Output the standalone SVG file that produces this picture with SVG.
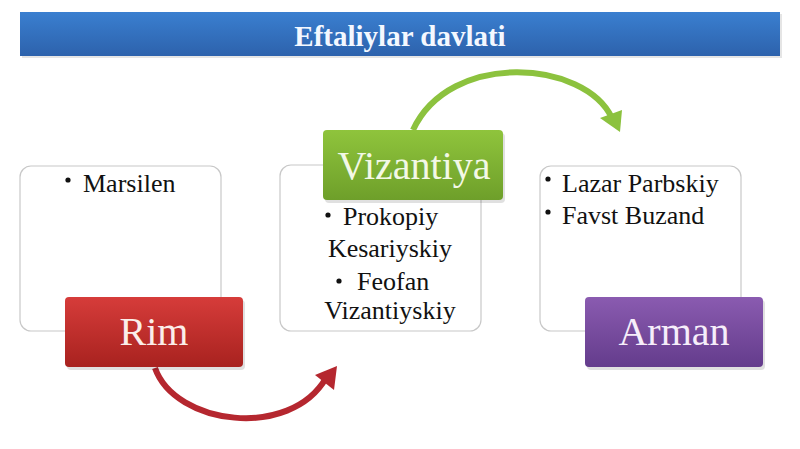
<svg xmlns="http://www.w3.org/2000/svg" width="800" height="449" viewBox="0 0 800 449">
<defs>
<linearGradient id="gBlue" x1="0" y1="0" x2="0" y2="1"><stop offset="0" stop-color="#3a7fd0"/><stop offset="1" stop-color="#2d62ac"/></linearGradient>
<linearGradient id="gRed" x1="0" y1="0" x2="0" y2="1"><stop offset="0" stop-color="#d63c3a"/><stop offset="1" stop-color="#a8221f"/></linearGradient>
<linearGradient id="gGreen" x1="0" y1="0" x2="0" y2="1"><stop offset="0" stop-color="#8fc43c"/><stop offset="1" stop-color="#6e9f2a"/></linearGradient>
<linearGradient id="gPurple" x1="0" y1="0" x2="0" y2="1"><stop offset="0" stop-color="#8a5bb0"/><stop offset="1" stop-color="#643c8c"/></linearGradient>
</defs>
<style>
.panel{fill:#ffffff;stroke:#c8c8c8;stroke-width:1.2}
.body{font-family:'Liberation Serif',serif;font-size:26px;fill:#111}
.head{font-family:'Liberation Serif',serif;font-size:40px}
.shadow{fill:#000;opacity:0.12}
</style>
<rect width="800" height="449" fill="#ffffff"/>
<g id="title">
<rect x="22" y="14" width="760" height="44" fill="#000" opacity="0.1"/>
<rect x="20" y="12" width="760" height="44" fill="url(#gBlue)"/>
<text x="400" y="46" text-anchor="middle" font-family="Liberation Serif" font-weight="bold" font-size="29" fill="#f4f8ff">Eftaliylar davlati</text>
</g>
<g id="connectors">
<path d="M155,368 C175,425 290,440 326,378" fill="none" stroke="#b5272f" stroke-width="6"/>
<polygon points="337,366 334,390 315,375" fill="#b5272f"/>
<path d="M413,130 C450,50 585,60 612,118" fill="none" stroke="#8cc23e" stroke-width="6"/>
<polygon points="620,132 600,118 622,110" fill="#8cc23e"/>
</g>
<g id="rim-panel">
<rect class="panel" x="20" y="166" width="201" height="165" rx="11"/>
<circle cx="68" cy="180" r="2.6" fill="#111"/>
<text class="body" x="83" y="192">Marsilen</text>
</g>
<g id="rim">
<rect class="shadow" x="67" y="300" width="178" height="70" rx="4"/>
<rect x="65" y="297" width="178" height="70" rx="4" fill="url(#gRed)"/>
<text class="head" x="154" y="345" text-anchor="middle" fill="#fbeeea">Rim</text>
</g>
<g id="vizantiya-panel">
<rect class="panel" x="280" y="165" width="201" height="166" rx="11"/>
<circle cx="328" cy="215" r="2.6" fill="#111"/>
<text class="body" x="343" y="225">Prokopiy</text>
<text class="body" x="390" y="257" text-anchor="middle">Kesariyskiy</text>
<circle cx="339" cy="281" r="2.6" fill="#111"/>
<text class="body" x="357" y="290">Feofan</text>
<text class="body" x="390" y="319" text-anchor="middle">Vizantiyskiy</text>
</g>
<g id="vizantiya">
<rect class="shadow" x="325" y="133" width="180" height="70" rx="4"/>
<rect x="323" y="130" width="180" height="70" rx="4" fill="url(#gGreen)"/>
<text class="head" x="414" y="179" text-anchor="middle" fill="#f3f8e6">Vizantiya</text>
</g>
<g id="arman-panel">
<rect class="panel" x="540" y="166" width="201" height="165" rx="11"/>
<circle cx="548" cy="179" r="2.6" fill="#111"/>
<text class="body" x="562" y="192">Lazar Parbskiy</text>
<circle cx="548" cy="212" r="2.6" fill="#111"/>
<text class="body" x="562" y="224">Favst Buzand</text>
</g>
<g id="arman">
<rect class="shadow" x="587" y="300" width="178" height="70" rx="4"/>
<rect x="585" y="297" width="178" height="70" rx="4" fill="url(#gPurple)"/>
<text class="head" x="674" y="345" text-anchor="middle" fill="#f6eefa">Arman</text>
</g>
</svg>
